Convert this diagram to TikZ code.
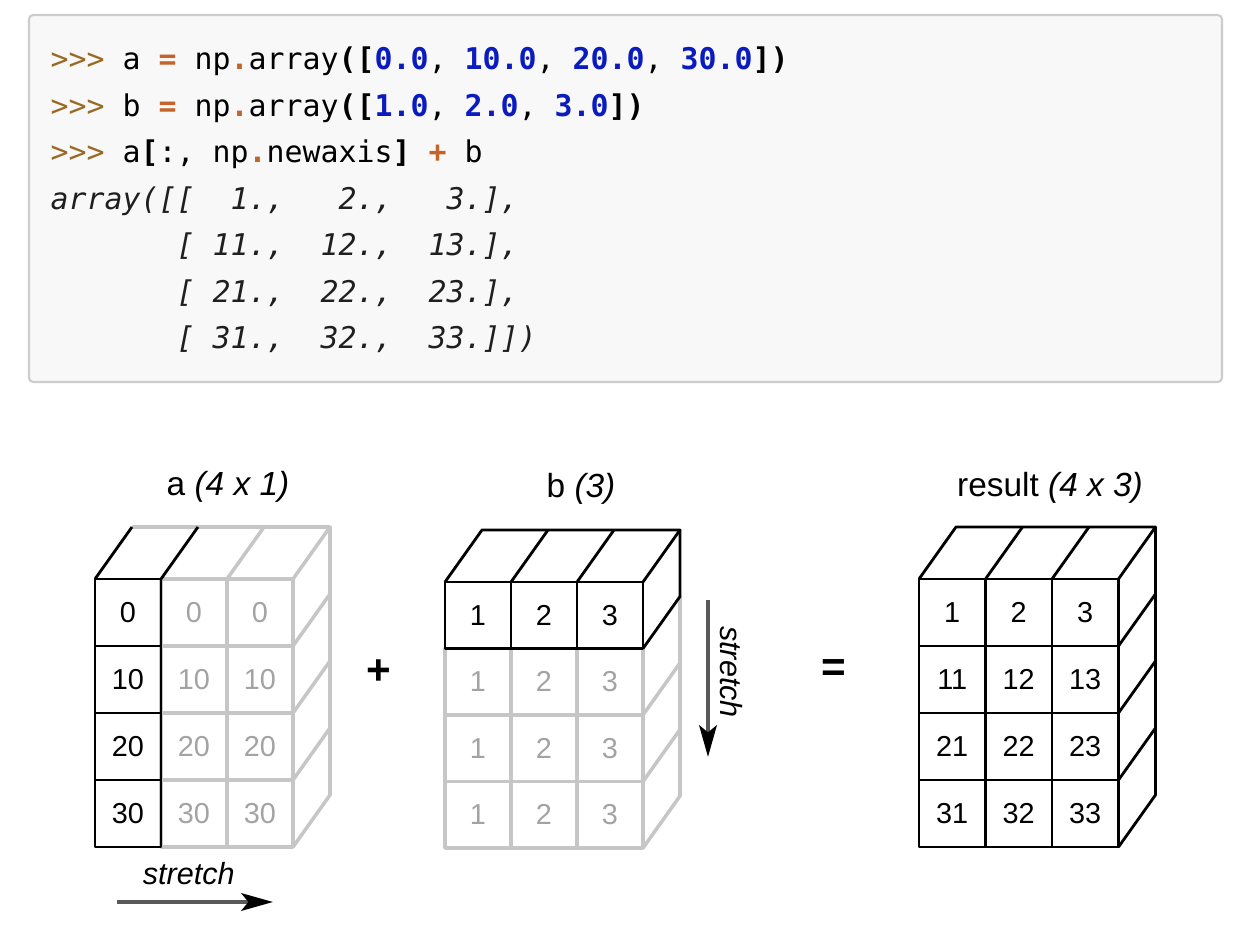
\documentclass[tikz,border=0pt]{standalone}
\usepackage{fontspec}
\setmainfont{Liberation Sans}
\setmonofont{DejaVu Sans Mono}
\usetikzlibrary{arrows.meta}

\definecolor{codebg}{HTML}{F8F8F8}
\definecolor{codeframe}{HTML}{CCCCCC}
\definecolor{promptcol}{HTML}{9A6A24}
\definecolor{opercol}{HTML}{C4642A}
\definecolor{numbcol}{HTML}{0A1CC0}

\newcommand{\prompt}{\textcolor{promptcol}{>>>}}
\newcommand{\oper}[1]{\textcolor{opercol}{\textbf{#1}}}
\newcommand{\numb}[1]{\textcolor{numbcol}{\textbf{#1}}}
\newcommand{\brk}[1]{\textbf{#1}}

\begin{document}
\frenchspacing
\begin{tikzpicture}[x=0.01cm, y=-0.01cm,
  dark/.style={draw=black, line width=0.8pt, line join=round},
  faint/.style={draw=gray!45, line width=1pt, line join=round},
  cellnum/.style={font=\fontsize{8.2}{8.2}\selectfont},
  faintnum/.style={cellnum, text=gray!72},
  title/.style={font=\fontsize{9.5}{9.5}\selectfont},
  sign/.style={font=\fontsize{12}{12}\selectfont\bfseries},
  codeline/.style={anchor=base west, inner sep=0pt, font=\ttfamily\fontsize{8.5}{8.5}\selectfont},
  outline/.style={codeline, text=black!88, font=\ttfamily\itshape\fontsize{8.5}{8.5}\selectfont},
  stretcharrow/.style={draw=black!65, line width=1.1pt, -{Stealth[length=9pt, width=5pt, inset=2pt, black]}}
]
\useasboundingbox (0,0) rectangle (1244,946);

% Code box
\draw[codeframe, fill=codebg, line width=0.6pt, rounded corners=1.2pt] (29,15) rectangle (1222,382);
\node[codeline] (cmd-a) at (50,70) {\prompt{} a \oper{=} np\oper{.}array\brk{([}\numb{0.0}, \numb{10.0}, \numb{20.0}, \numb{30.0}\brk{])}};
\node[codeline] (cmd-b) at (50,116.5) {\prompt{} b \oper{=} np\oper{.}array\brk{([}\numb{1.0}, \numb{2.0}, \numb{3.0}\brk{])}};
\node[codeline] (cmd-sum) at (50,163) {\prompt{} a\brk{[}:, np\oper{.}newaxis\brk{]} \oper{+} b};
\node[outline] (out-1) at (50,209.5) {array([[~~1.,~~~2.,~~~3.],};
\node[outline] (out-2) at (50,256) {~~~~~~~[~11.,~~12.,~~13.],};
\node[outline] (out-3) at (50,302.5) {~~~~~~~[~21.,~~22.,~~23.],};
\node[outline] (out-4) at (50,349) {~~~~~~~[~31.,~~32.,~~33.]])};

% Array a, stretched along the columns
\node[title] (title-a) at (228,487) {a \textit{(4 x 1)}};
\begin{scope}[shift={(95,579)}]
  \foreach \c in {1,2}
    \foreach \r in {0,...,3}
      \draw[faint] (\c*66,\r*67) rectangle ++(66,67);
  \draw[faint] (37,-52) -- (235,-52) -- (198,0);
  \draw[faint] (132,0) -- ++(37,-52);
  \draw[faint] (235,-52) -- (235,216) -- (198,268);
  \foreach \r in {1,2,3}
    \draw[faint] (198,\r*67) -- ++(37,-52);
  % original column
  \foreach \r in {0,...,3}
    \draw[dark] (0,\r*67) rectangle ++(66,67);
  \draw[dark] (0,0) -- ++(37,-52);
  \draw[dark] (66,0) -- ++(37,-52);
  \foreach \v [count=\r from 0] in {0,10,20,30} {
    \node[cellnum] (a-\r-0) at (33,\r*67+33.5) {\v};
    \node[faintnum] (a-\r-1) at (99,\r*67+33.5) {\v};
    \node[faintnum] (a-\r-2) at (165,\r*67+33.5) {\v};
  }
\end{scope}
\draw[stretcharrow] (117,902) -- (273,902) node[pos=0.46, above=1pt, font=\fontsize{8.7}{8.7}\selectfont\itshape] (stretch-a) {stretch};

% Plus sign
\node[sign] (plus) at (379,672) {+};

% Array b, stretched along the rows
\node[title] (title-b) at (581,489) {b \textit{(3)}};
\begin{scope}[shift={(445,582)}]
  \foreach \r in {1,2,3}
    \foreach \c in {0,1,2}
      \draw[faint] (\c*66,\r*66.5) rectangle ++(66,66.5);
  \draw[faint] (235,14.5) -- (235,214) -- (198,266);
  \foreach \r in {2,3}
    \draw[faint] (198,\r*66.5) -- ++(37,-52);
  % original row
  \foreach \c in {0,1,2}
    \draw[dark] (\c*66,0) rectangle ++(66,66.5);
  \draw[dark] (0,0) -- (37,-52) -- (235,-52) -- (198,0);
  \draw[dark] (66,0) -- ++(37,-52);
  \draw[dark] (132,0) -- ++(37,-52);
  \draw[dark] (235,-52) -- (235,14.5) -- (198,66.5);
  \foreach \v [count=\c from 0] in {1,2,3} {
    \node[cellnum] (b-0-\c) at (\c*66+33,33.25) {\v};
    \foreach \r in {1,2,3}
      \node[faintnum] (b-\r-\c) at (\c*66+33,\r*66.5+33.25) {\v};
  }
\end{scope}
\coordinate (stretch-b-top) at (708,600);
\coordinate (stretch-b-end) at (708,757);
\draw[stretcharrow] (stretch-b-top) -- (stretch-b-end);
\node[rotate=-90, font=\fontsize{8.7}{8.7}\selectfont\itshape] (stretch-b) at (731,672) {stretch};

% Equals sign
\node[sign] (equals) at (834,671) {=};

% Result array
\node[title] (title-result) at (1050,488) {result \textit{(4 x 3)}};
\begin{scope}[shift={(919,579)}]
  \foreach \r in {0,...,3}
    \foreach \c in {0,1,2}
      \draw[dark] (\c*66.5,\r*67) rectangle ++(66.5,67);
  \draw[dark] (0,0) -- (37,-52) -- (236.5,-52) -- (199.5,0);
  \draw[dark] (66.5,0) -- ++(37,-52);
  \draw[dark] (133,0) -- ++(37,-52);
  \draw[dark] (236.5,-52) -- (236.5,216) -- (199.5,268);
  \foreach \r in {1,2,3}
    \draw[dark] (199.5,\r*67) -- ++(37,-52);
  \foreach \r in {0,...,3}
    \foreach \c in {0,1,2} {
      \pgfmathtruncatemacro{\val}{10*\r+\c+1}
      \node[cellnum] (r-\r-\c) at (\c*66.5+33.25,\r*67+33.5) {\val};
    }
\end{scope}
\end{tikzpicture}
\end{document}
